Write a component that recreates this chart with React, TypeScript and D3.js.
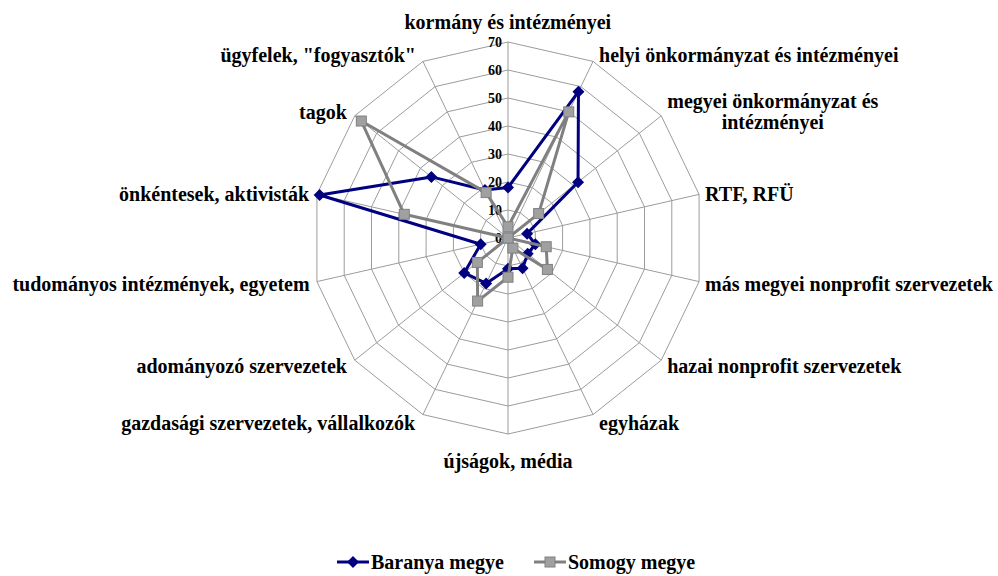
import { useEffect, useRef } from "react";
import * as d3 from "d3";

// axis categories, clockwise from the top
const categories = [
  "kormány és intézményei",
  "helyi önkormányzat és intézményei",
  "megyei önkormányzat és\nintézményei",
  "RTF, RFÜ",
  "más megyei nonprofit szervezetek",
  "hazai nonprofit szervezetek",
  "egyházak",
  "újságok, média",
  "gazdasági szervezetek, vállalkozók",
  "adományozó szervezetek",
  "tudományos intézmények, egyetem",
  "önkéntesek, aktivisták",
  "tagok",
  'ügyfelek, "fogyasztók"',
];

const baranya = [18, 58, 32, 7, 10, 9, 12, 11, 18, 20, 10, 69, 35, 19];
const somogy = [4, 50, 14, 0, 14, 18, 4, 14, 25, 14, 0, 38, 67, 18];

const tickValues = [0, 10, 20, 30, 40, 50, 60, 70];
const seriesNames = ["Baranya megye", "Somogy megye"];

const W = 998;
const H = 576;

const App = () => {
  const svgRef = useRef<SVGSVGElement>(null);

  useEffect(() => {
    const svg = d3.select(svgRef.current);
    svg.selectAll("*").remove();

    const cx = 508;
    const cy = 238;
    const font = "'Liberation Serif', 'Times New Roman', serif";

    const r = d3.scaleLinear().domain([0, 70]).range([0, 196]);
    const n = categories.length;
    const angle = (i: number) => (i * 2 * Math.PI) / n;
    const pt = (i: number, v: number): [number, number] => [
      cx + r(v) * Math.sin(angle(i)),
      cy - r(v) * Math.cos(angle(i)),
    ];

    const g = svg.append("g").style("font-family", font);
    const gridColor = "#9c9c9c";

    // rings
    tickValues
      .filter((t) => t > 0)
      .forEach((t) => {
        g.append("path")
          .attr("d", d3.line()(d3.range(n).map((i) => pt(i, t))) + "Z")
          .attr("fill", "none")
          .attr("stroke", gridColor)
          .attr("stroke-width", 1);
      });

    // spokes
    d3.range(n).forEach((i) => {
      const [x, y] = pt(i, 70);
      g.append("line")
        .attr("x1", cx)
        .attr("y1", cy)
        .attr("x2", x)
        .attr("y2", y)
        .attr("stroke", gridColor)
        .attr("stroke-width", 1);
    });

    // tick labels
    tickValues.forEach((t) => {
      g.append("text")
        .attr("x", cx - 6)
        .attr("y", cy - r(t) + 5)
        .attr("text-anchor", "end")
        .attr("font-weight", "bold")
        .attr("font-size", 14)
        .text(t);
    });

    // category labels
    categories.forEach((c, i) => {
      const [px, py] = pt(i, 70);
      const s = Math.sin(angle(i));
      const co = Math.cos(angle(i));
      const lines = c.split("\n");
      const lab = g
        .append("text")
        .attr("text-anchor", "middle")
        .attr("font-weight", "bold")
        .attr("font-size", 20);
      lines.forEach((l, j) => {
        lab.append("tspan").attr("x", 0).attr("dy", j === 0 ? 0 : 21).text(l);
      });
      const bb = (lab.node() as SVGTextElement).getBBox();
      let centerX: number;
      let centerY: number;
      if (s > 0.1) centerX = px + 6 + bb.width / 2;
      else if (s < -0.1) centerX = px - 7 - bb.width / 2;
      else centerX = px;
      if (Math.abs(s) < 0.1) centerY = co > 0 ? py - 20 : py + 27;
      else centerY = py - co * 8 + 1.5;
      const dx = centerX - (bb.x + bb.width / 2);
      const dy = centerY - (bb.y + bb.height / 2);
      lab.attr("transform", `translate(${dx},${dy})`);
    });

    const line = d3.line<number>().x((v, i) => pt(i, v)[0]).y((v, i) => pt(i, v)[1]);

    const diamond = (x: number, y: number, s: number) =>
      `M${x},${y - s}L${x + s},${y}L${x},${y + s}L${x - s},${y}Z`;

    // Baranya
    g.append("path")
      .attr("d", line(baranya) + "Z")
      .attr("fill", "none")
      .attr("stroke", "#000080")
      .attr("stroke-width", 3)
      .attr("stroke-linejoin", "round");
    baranya.forEach((v, i) => {
      const [x, y] = pt(i, v);
      g.append("path").attr("d", diamond(x, y, 6)).attr("fill", "#000080");
    });

    // Somogy
    g.append("path")
      .attr("d", line(somogy) + "Z")
      .attr("fill", "none")
      .attr("stroke", "#808080")
      .attr("stroke-width", 3)
      .attr("stroke-linejoin", "round");
    somogy.forEach((v, i) => {
      const [x, y] = pt(i, v);
      g.append("rect")
        .attr("x", x - 5)
        .attr("y", y - 5)
        .attr("width", 10)
        .attr("height", 10)
        .attr("fill", "#a0a0a0")
        .attr("stroke", "#808080")
        .attr("stroke-width", 1);
    });

    // legend
    const ly = 562;
    const leg = svg.append("g").style("font-family", font);
    const items = [
      { x: 337, color: "#000080", name: seriesNames[0], mark: "diamond" },
      { x: 534, color: "#808080", name: seriesNames[1], mark: "square" },
    ];
    items.forEach((it) => {
      leg.append("line")
        .attr("x1", it.x)
        .attr("x2", it.x + 32)
        .attr("y1", ly)
        .attr("y2", ly)
        .attr("stroke", it.color)
        .attr("stroke-width", 3);
      const mx = it.x + 16;
      if (it.mark === "diamond") {
        leg.append("path").attr("d", diamond(mx, ly, 6)).attr("fill", it.color);
      } else {
        leg.append("rect")
          .attr("x", mx - 5)
          .attr("y", ly - 5)
          .attr("width", 10)
          .attr("height", 10)
          .attr("fill", "#a0a0a0")
          .attr("stroke", "#808080");
      }
      leg.append("text")
        .attr("x", it.x + 34)
        .attr("y", ly + 7)
        .attr("font-weight", "bold")
        .attr("font-size", 20)
        .text(it.name);
    });
  }, []);

  return (
    <svg
      ref={svgRef}
      width={W}
      height={H}
      style={{ position: "fixed", left: 0, top: 0, background: "#fff" }}
    />
  );
};

export default App;
